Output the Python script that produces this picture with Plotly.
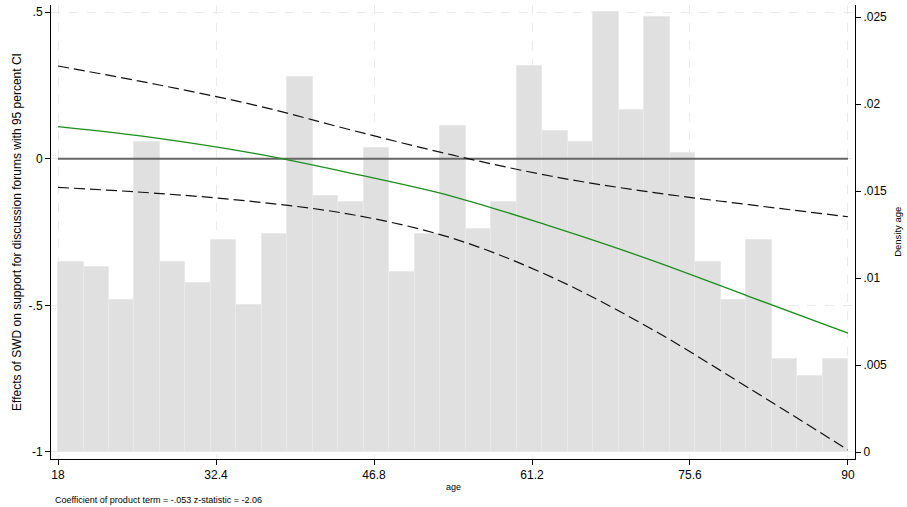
import plotly.graph_objects as go

# ---------------- data ----------------
age_min = 18
age_max = 90
n_bins = 31
density = [0.01092, 0.01063, 0.00874, 0.01782, 0.01092, 0.00971, 0.01218, 0.00845,
           0.01253, 0.02155, 0.01471, 0.01437, 0.01747, 0.01034, 0.01253, 0.01874,
           0.01282, 0.01437, 0.02218, 0.01845, 0.01782, 0.02529, 0.01966, 0.02500,
           0.01718, 0.01092, 0.00874, 0.01218, 0.00534, 0.00437, 0.00534]

ages = [18, 27, 36, 45, 54, 63, 72, 81, 90]
effect = [0.109, 0.070, 0.017, -0.052, -0.129, -0.232, -0.345, -0.470, -0.595]
upper = [0.316, 0.253, 0.182, 0.095, 0.012, -0.060, -0.114, -0.157, -0.198]
lower = [-0.098, -0.118, -0.147, -0.192, -0.272, -0.404, -0.579, -0.783, -0.993]

x_ticks = [18, 32.4, 46.8, 61.2, 75.6, 90]
x_ticklabels = ["18", "32.4", "46.8", "61.2", "75.6", "90"]
left_ticks = [-1, -0.5, 0, 0.5]
left_ticklabels = ["-1", "-.5", "0", ".5"]
right_ticks = [0, 0.005, 0.01, 0.015, 0.02, 0.025]
right_ticklabels = ["0", ".005", ".01", ".015", ".02", ".025"]

left_title = "Effects of SWD on support for discussion forums with 95 percent CI"
right_title = "Density age"
x_title = "age"
note = "Coefficient of product term = -.053 z-statistic = -2.06"

# ---------------- figure ----------------
bw = (age_max - age_min) / n_bins
centers = [age_min + bw * (i + 0.5) for i in range(n_bins)]

FONT = "Liberation Sans, Arial, sans-serif"
fig = go.Figure()

fig.add_trace(go.Bar(
    x=centers, y=density, width=bw, yaxis="y",
    marker=dict(color="#e0e0e0", line=dict(color="#e9e9e9", width=1)),
    showlegend=False, hoverinfo="skip"))

fig.add_trace(go.Scatter(
    x=[age_min, age_max], y=[0, 0], yaxis="y2", mode="lines",
    line=dict(color="#666666", width=2), showlegend=False))

for s in (upper, lower):
    fig.add_trace(go.Scatter(
        x=ages, y=s, yaxis="y2", mode="lines", line_shape="spline",
        line=dict(color="#111111", width=1.2, dash="11px,5px"), showlegend=False))

fig.add_trace(go.Scatter(
    x=ages, y=effect, yaxis="y2", mode="lines", line_shape="spline",
    line=dict(color="#1a8f1a", width=1.3), showlegend=False))

axis_common = dict(showline=True, linecolor="black", linewidth=1, ticks="outside",
                   ticklen=5, tickcolor="black", zeroline=False,
                   tickfont=dict(family=FONT, size=12, color="black"))

fig.update_layout(
    width=907, height=507,
    margin=dict(l=51, r=52, t=5, b=48),
    paper_bgcolor="white", plot_bgcolor="white",
    bargap=0,
    font=dict(family=FONT, color="black"),
    xaxis=dict(range=[17.36, 90.64], tickvals=x_ticks, ticktext=x_ticklabels,
               showgrid=True, gridcolor="#ebebeb", griddash="dash", gridwidth=1,
               **axis_common),
    yaxis=dict(range=[-0.000402, 0.02569], side="right", tickvals=right_ticks,
               ticktext=right_ticklabels, showgrid=False, **axis_common),
    yaxis2=dict(range=[-1.024, 0.524], overlaying="y", side="left",
                tickvals=left_ticks, ticktext=left_ticklabels,
                showgrid=True, gridcolor="#ebebeb", griddash="dash", gridwidth=1,
                **axis_common),
    annotations=[
        dict(text=left_title, xref="paper", yref="paper", x=-0.0423, y=0.5,
             textangle=-90, showarrow=False, xanchor="center", yanchor="middle",
             font=dict(family=FONT, size=12, color="black")),
        dict(text=right_title, xref="paper", yref="paper", x=1.052, y=0.5,
             textangle=-90, showarrow=False, xanchor="center", yanchor="middle",
             font=dict(family=FONT, size=9.5, color="black")),
        dict(text=x_title, xref="paper", yref="paper", x=0.5, y=-0.0617,
             showarrow=False, xanchor="center", yanchor="middle",
             font=dict(family=FONT, size=9, color="black")),
        dict(text=note, xref="paper", yref="paper", x=0.0025, y=-0.0903,
             showarrow=False, xanchor="left", yanchor="middle",
             font=dict(family=FONT, size=9, color="black")),
    ],
)

fig.write_html("out.html",
               config={"displayModeBar": False},
               post_script="document.body.style.margin='0';document.body.style.padding='0';")
